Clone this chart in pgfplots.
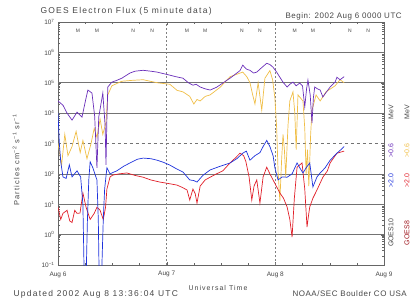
\documentclass[border=0pt]{standalone}
\usepackage{fontspec}
\setmainfont{Liberation Sans}
\newfontfamily\lsfont[LetterSpace=15]{Liberation Sans}
\newfontfamily\lsfontb[LetterSpace=7]{Liberation Sans}
\usepackage{pgfplots}
\pgfplotsset{compat=1.18}
\usepackage{pgfplotstable}
\definecolor{gp}{RGB}{105,45,185}
\definecolor{gy}{RGB}{240,190,70}
\definecolor{gb}{RGB}{30,50,220}
\definecolor{gr}{RGB}{225,30,40}
\definecolor{txt}{RGB}{70,70,70}

\pgfplotstableread{
h v
0 4.4
1.1 4.26
2.0 4.0
3.1 3.77
4.2 4.03
5.3 3.87
6.2 4.5
6.6 4.76
7.5 4.66
8.1 3.9
8.6 2.2
9.0 3.87
9.9 4.66
10.4 3.6
10.6 2.3
10.8 3.8
11.0 4.86
11.9 5.02
13.0 5.08
14.1 5.15
15.9 5.32
17.0 5.38
18.8 5.41
20.5 5.38
21.9 5.35
23.3 5.30
24.7 5.25
26.0 5.2
27.6 5.15
28.8 5.0
29.8 4.92
30.5 4.95
31.4 4.86
32.5 4.8
33.6 4.76
35.0 4.85
36.4 4.99
38.0 5.15
39.5 5.32
40.2 5.4
40.8 5.58
41.6 5.45
42.4 5.41
43.2 5.32
43.9 5.35
45.0 5.5
46.1 5.64
46.8 5.6
47.5 5.51
48.3 5.35
49.0 5.18
49.8 5.0
50.6 4.86
51.2 4.95
51.9 5.02
52.6 4.9
53.4 4.99
54.0 4.9
54.5 4.20
54.9 4.8
55.2 5.09
55.7 4.6
56.1 3.67
56.4 4.5
56.7 4.86
57.3 4.8
57.9 4.76
58.5 4.53
59.3 4.7
60.1 4.86
61.2 5.02
61.6 5.18
62.3 5.1
63.2 5.2
}\gpurple

\pgfplotstableread{
h v
0 3.0
0.8 2.3
1.5 3.3
2.2 2.6
3.1 2.9
4.0 3.4
4.9 2.7
5.5 3.1
6.4 2.5
7.3 3.0
8.0 3.5
8.6 3.2
9.3 3.8
9.9 3.3
10.6 3.7
11.0 4.6
11.9 4.9
14.1 5.05
16.5 5.08
18.8 5.1
21.9 5.0
24.7 4.95
26.3 4.75
27.6 4.7
29.1 4.55
30.0 4.3
30.7 4.45
31.4 4.4
32.5 4.55
33.6 4.6
35.8 4.85
38.0 5.2
40.8 5.35
41.7 5.2
42.4 5.0
43.0 4.6
43.5 4.3
44.2 5.0
45.0 4.1
45.7 5.15
46.8 5.4
47.4 5.1
47.9 4.5
48.3 3.5
48.6 2.1
49.0 1.1
49.4 2.5
49.7 3.3
50.0 2.8
50.3 1.9
50.8 3.6
51.2 4.4
51.9 4.7
52.3 4.0
52.6 2.8
53.0 4.6
54.1 4.4
54.5 3.5
54.8 2.0
55.1 2.8
55.4 1.6
55.8 3.3
56.1 4.1
57.0 4.6
57.9 4.4
59.2 4.7
61.2 4.9
62.3 5.1
63.2 5.0
}\gyellow

\pgfplotstableread{
h v
0 4.0
0.3 3.0
0.6 2.4
1.1 1.9
1.8 1.85
2.5 2.3
3.1 1.9
4.2 2.1
5.0 1.9
5.5 1.0
5.8 -1.5
6.2 -1.5
6.5 0.5
6.8 1.8
7.1 2.4
7.7 2.2
8.6 1.8
8.9 0.5
9.1 -1.5
9.6 -1.5
10.0 0.5
10.3 1.5
10.8 2.2
11.5 2.0
12.2 2.05
13.0 2.1
14.5 2.25
15.9 2.36
17.5 2.48
18.8 2.52
20.5 2.5
21.9 2.45
23.3 2.38
24.7 2.29
26.0 2.18
27.6 2.06
29.1 1.8
30.0 1.78
30.7 1.73
32.0 1.95
33.6 2.13
35.8 2.25
38.0 2.36
39.5 2.5
40.8 2.68
41.6 2.75
42.4 2.45
43.5 2.6
44.6 2.7
45.3 2.9
46.1 3.1
46.8 2.9
47.5 2.6
47.9 2.2
48.6 1.8
49.5 1.9
50.6 1.89
51.7 2.0
52.8 2.36
53.4 2.2
54.1 2.03
54.8 2.2
55.6 2.36
56.3 1.57
57.2 1.9
57.9 2.03
59.0 2.2
60.1 2.45
61.6 2.68
62.5 2.8
63.2 2.9
}\gblue

\pgfplotstableread{
h v
0 0.9
0.6 0.5
1.1 0.7
2.0 0.8
2.6 0.45
3.1 0.4
3.7 0.8
4.2 0.7
4.86 0.71
5.5 1.37
6.2 0.9
7.1 0.5
8.0 0.7
8.6 0.9
9.27 0.81
10.0 0.5
10.5 0.9
10.8 1.5
11.5 1.9
12.1 1.96
13.5 2.0
15.2 2.03
17.0 1.95
18.8 1.89
20.5 1.8
22.5 1.73
24.5 1.68
26.3 1.63
27.5 1.55
28.5 1.47
29.1 1.14
29.8 1.5
30.3 1.35
30.7 1.04
31.4 1.6
32.5 1.8
33.6 1.89
35.0 2.0
36.4 2.1
38.0 2.36
39.0 2.5
40.2 2.68
41.0 2.6
41.5 2.4
42.2 1.9
42.8 1.14
43.3 1.6
43.9 1.80
44.6 1.04
45.3 1.9
46.1 2.22
46.8 2.0
47.5 1.80
48.2 1.6
49.0 1.37
49.8 1.2
50.6 0.91
51.2 0.5
51.7 -0.08
52.2 1.2
52.8 2.22
53.9 2.36
54.5 1.5
55.0 0.25
55.3 0.6
55.6 0.91
56.3 1.2
57.2 1.47
58.5 1.89
59.5 2.1
60.1 2.36
61.6 2.68
63.2 2.75
}\gred

\begin{document}
\begin{tikzpicture}
\useasboundingbox (0,0) rectangle (412bp,308bp);
\begin{axis}[
  at={(58bp,43bp)}, anchor=south west,
  scale only axis, width=326bp, height=243bp,
  xmin=0, xmax=72, ymode=log, ymin=0.1, ymax=1e7,
  axis line style={black!60},
  xtick={0,24,48,72}, xticklabels={Aug 6,Aug 7,Aug 8,Aug 9},
  minor x tick num=3,
  ytick={0.1,1,10,100,1000,10000,100000,1000000,10000000},
  yticklabels={10\textsuperscript{−1},10\textsuperscript{0},10\textsuperscript{1},10\textsuperscript{2},10\textsuperscript{3},10\textsuperscript{4},10\textsuperscript{5},10\textsuperscript{6},10\textsuperscript{7}},
  tick style={black!60}, major tick length=3.5pt, minor tick length=2pt,
  ticklabel style={font=\fontsize{6.5}{7}\selectfont, text=txt},
  xticklabel style={yshift=-3pt},
  clip=true,
]
\draw[black!55, line width=0.7pt] (axis cs:0,1) -- (axis cs:72,1);
\draw[black!55, line width=0.7pt] (axis cs:0,10) -- (axis cs:72,10);
\draw[black!55, line width=0.7pt] (axis cs:0,100) -- (axis cs:72,100);
\draw[black!55, line width=0.7pt, dash pattern=on 3pt off 3pt] (axis cs:0,1000) -- (axis cs:72,1000);
\draw[black!55, line width=0.7pt] (axis cs:0,10000) -- (axis cs:72,10000);
\draw[black!55, line width=0.7pt] (axis cs:0,100000) -- (axis cs:72,100000);
\draw[black!55, line width=0.7pt] (axis cs:0,1000000) -- (axis cs:72,1000000);
\draw[black!50, dash pattern=on 2pt off 2pt] (axis cs:24,0.1) -- (axis cs:24,1e7);
\draw[black!50, dash pattern=on 2pt off 2pt] (axis cs:48,0.1) -- (axis cs:48,1e7);
\addplot[gy, line width=0.7pt] table[x=h, y expr=10^\thisrow{v}] {\gyellow};
\addplot[gp, line width=0.7pt] table[x=h, y expr=10^\thisrow{v}] {\gpurple};
\addplot[gr, line width=0.7pt] table[x=h, y expr=10^\thisrow{v}] {\gred};
\addplot[gb, line width=0.7pt] table[x=h, y expr=10^\thisrow{v}] {\gblue};
\node[font=\fontsize{5}{5}\selectfont, text=txt] at (axis cs:4.4,5e6) {M};
\node[font=\fontsize{5}{5}\selectfont, text=txt] at (axis cs:8.6,5e6) {M};
\node[font=\fontsize{5}{5}\selectfont, text=txt] at (axis cs:16.6,5e6) {N};
\node[font=\fontsize{5}{5}\selectfont, text=txt] at (axis cs:20.8,5e6) {N};
\node[font=\fontsize{5}{5}\selectfont, text=txt] at (axis cs:28.5,5e6) {M};
\node[font=\fontsize{5}{5}\selectfont, text=txt] at (axis cs:32.5,5e6) {M};
\node[font=\fontsize{5}{5}\selectfont, text=txt] at (axis cs:40.6,5e6) {N};
\node[font=\fontsize{5}{5}\selectfont, text=txt] at (axis cs:44.6,5e6) {N};
\node[font=\fontsize{5}{5}\selectfont, text=txt] at (axis cs:52.3,5e6) {M};
\node[font=\fontsize{5}{5}\selectfont, text=txt] at (axis cs:56.3,5e6) {M};
\node[font=\fontsize{5}{5}\selectfont, text=txt] at (axis cs:64.5,5e6) {N};
\node[font=\fontsize{5}{5}\selectfont, text=txt] at (axis cs:68.5,5e6) {N};
\end{axis}
\node[anchor=base west, font=\lsfont\fontsize{8.5}{9}\selectfont, text=txt] at (37bp,294bp) {GOES Electron Flux (5 minute data)};
\node[anchor=base west, font=\lsfontb\fontsize{8}{9}\selectfont, text=txt] at (282bp,289bp) {Begin: 2002 Aug 6 0000 UTC};
\node[anchor=base west, font=\lsfont\fontsize{8.5}{9}\selectfont, text=txt] at (10bp,12bp) {Updated 2002 Aug 8 13:36:04 UTC};
\node[anchor=base west, font=\lsfontb\fontsize{8}{9}\selectfont, text=txt] at (289bp,12bp) {NOAA/SEC Boulder CO USA};
\node[font=\lsfont\fontsize{7}{8}\selectfont, text=txt] at (218bp,20bp) {Universal Time};
\node[rotate=90, font=\lsfont\fontsize{7.5}{8}\selectfont, text=txt] at (16bp,148bp) {Particles cm\textsuperscript{−2} s\textsuperscript{−1} sr\textsuperscript{−1}};
\begin{scope}[every node/.style={rotate=90, font=\fontsize{7}{8}\selectfont}]
\node[text=txt] at (391bp,75bp) {GOES10};
\node[text=gb] at (391bp,127bp) {>2.0};
\node[text=gp] at (391bp,157bp) {>0.6};
\node[text=txt] at (391bp,196bp) {MeV};
\node[text=gr!70!black] at (407bp,75bp) {GOES8};
\node[text=gr] at (407bp,127bp) {>2.0};
\node[text=gy] at (407bp,157bp) {>0.6};
\node[text=txt] at (407bp,196bp) {MeV};
\end{scope}
\end{tikzpicture}
\end{document}
